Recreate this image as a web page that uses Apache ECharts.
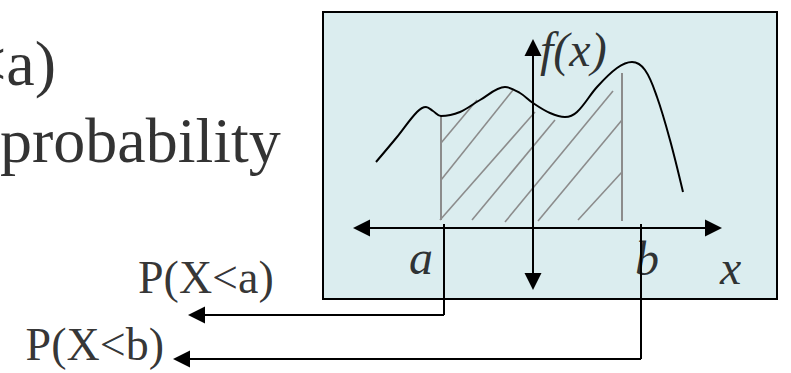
<!DOCTYPE html>
<html>
<head>
<meta charset="utf-8">
<script src="https://cdn.jsdelivr.net/npm/echarts@6/dist/echarts.min.js"></script>
<style>
  html, body { margin: 0; padding: 0; background: #fff; }
  #chart { width: 791px; height: 373px; }
</style>
</head>
<body>
<div id="chart"></div>
<script>
// values: 1 unit = 1 px, origin where the f(x) axis
// crosses the x axis, y pointing up

// density curve
const curveX = [-157, -136, -116, -107, -100, -92, -73, -53, -28, -13, 0, 17, 32, 44, 64, 84, 99, 112, 124, 137, 150]
const curveY = [66, 91, 116, 121, 117, 112, 116, 128, 141, 135, 125, 115, 111, 116, 141, 160, 166, 158, 131, 88, 36]

// bounds a and b (gray verticals)
const boundX = [-92, 89]
const boundTop = [112, 155]
const boundBottom = [8, 7]

// hatch strokes between a and b
const hatchFrom = [[-92, 85], [-92, 48], [-93, 8], [-61, 8], [-28, 6], [5, 7], [45, 8]]
const hatchTo = [[-56, 128], [-20, 138], [2, 116], [22, 108], [80, 137], [89, 108], [89, 56]]

// axis arrow tips
const xAxisTips = [-180, 189]
const yAxisTips = [189, -62]

// P(X<a) and P(X<b) leaders
const leaderA = [[-89, 4], [-89, -87], [-345, -87]]
const leaderB = [[108, 4], [108, -131], [-360, -131]]

// panel corners
const panelX = [-210, 244]
const panelY = [-71, 216]

// labels
const labelTexts = ['P(X<a)', 'probability', 'P(X<a)', 'P(X<b)', 'f(x)', 'a', 'b', 'x']
const labelAt = [[-477, 165], [-533, 88], [-395, -49], [-369, -116], [7, 179], [-124, -29], [102, -30], [187, -39]]

const ARROW = 17
const serif = "'Liberation Serif', 'Times New Roman', serif"

// move the end point back so the triangle tip sits on it
const pullBack = (from, to, d) => {
  const dx = to[0] - from[0], dy = to[1] - from[1]
  const len = Math.sqrt(dx * dx + dy * dy)
  return [to[0] - dx / len * d, to[1] - dy / len * d]
}

const xAxisLine = [
  [xAxisTips[0] + ARROW / 2, 0],
  [xAxisTips[1] - ARROW / 2, 0]
]
const yAxisLine = [
  [0, yAxisTips[0] - ARROW / 2],
  [0, yAxisTips[1] + ARROW / 2]
]

// leaders: the drop has no head, the run to the left ends in an arrow
const leaderDrops = [leaderA, leaderB].map(p => ({ coords: [p[0], p[1]] }))
const leaderRuns = [leaderA, leaderB].map(p => ({ coords: [p[1], pullBack(p[1], p[2], ARROW / 2)] }))

const labelStyles = [
  { fontSize: 64, align: 'right' },
  { fontSize: 64, align: 'left' },
  { fontSize: 46, align: 'left' },
  { fontSize: 46, align: 'right' },
  { fontSize: 48, align: 'left', fontStyle: 'italic' },
  { fontSize: 48, align: 'left', fontStyle: 'italic' },
  { fontSize: 48, align: 'left', fontStyle: 'italic' },
  { fontSize: 48, align: 'left', fontStyle: 'italic' }
]

const chart = echarts.init(document.getElementById('chart'), null, { renderer: 'svg' })

chart.setOption({
  animation: false,
  backgroundColor: '#ffffff',
  grid: { left: 0, right: 0, top: 0, bottom: 0 },
  xAxis: { type: 'value', min: -533, max: 258, show: false },
  yAxis: { type: 'value', min: -145, max: 228, show: false },
  series: [
    {
      type: 'custom',
      z: 1,
      silent: true,
      data: [[panelX[0], panelY[0]]],
      renderItem: (params, api) => {
        const p0 = api.coord([panelX[0], panelY[1]])
        const p1 = api.coord([panelX[1], panelY[0]])
        return {
          type: 'rect',
          shape: { x: p0[0], y: p0[1], width: p1[0] - p0[0], height: p1[1] - p0[1] },
          style: { fill: '#dbedef', stroke: '#000', lineWidth: 2 }
        }
      }
    },
    {
      type: 'lines',
      coordinateSystem: 'cartesian2d',
      z: 2,
      silent: true,
      lineStyle: { color: '#8c8c8c', width: 1.6, opacity: 1 },
      data: hatchFrom.map((p, i) => ({ coords: [p, hatchTo[i]] }))
    },
    {
      type: 'lines',
      coordinateSystem: 'cartesian2d',
      z: 3,
      silent: true,
      lineStyle: { color: '#8c8c8c', width: 2, opacity: 1 },
      data: boundX.map((x, i) => ({ coords: [[x, boundTop[i]], [x, boundBottom[i]]] }))
    },
    {
      type: 'line',
      z: 4,
      silent: true,
      smooth: 0.35,
      showSymbol: false,
      lineStyle: { color: '#000', width: 2 },
      data: curveX.map((x, i) => [x, curveY[i]])
    },
    {
      type: 'lines',
      coordinateSystem: 'cartesian2d',
      z: 5,
      silent: true,
      symbol: ['triangle', 'triangle'],
      symbolSize: ARROW,
      lineStyle: { color: '#000', width: 2, opacity: 1 },
      itemStyle: { color: '#000' },
      data: [{ coords: xAxisLine }, { coords: yAxisLine }]
    },
    {
      type: 'lines',
      coordinateSystem: 'cartesian2d',
      z: 5,
      silent: true,
      lineStyle: { color: '#000', width: 2, opacity: 1 },
      data: leaderDrops
    },
    {
      type: 'lines',
      coordinateSystem: 'cartesian2d',
      z: 5,
      silent: true,
      symbol: ['none', 'triangle'],
      symbolSize: ARROW,
      lineStyle: { color: '#000', width: 2, opacity: 1 },
      itemStyle: { color: '#000' },
      data: leaderRuns
    },
    {
      type: 'scatter',
      z: 6,
      silent: true,
      symbolSize: 0,
      data: labelTexts.map((t, i) => ({
        value: labelAt[i],
        label: {
          show: true,
          position: [0, 0],
          formatter: t,
          color: '#000',
          fontFamily: serif,
          fontWeight: 'normal',
          verticalAlign: 'middle',
          lineHeight: labelStyles[i].fontSize,
          ...labelStyles[i]
        }
      }))
    }
  ]
})
</script>
</body>
</html>
